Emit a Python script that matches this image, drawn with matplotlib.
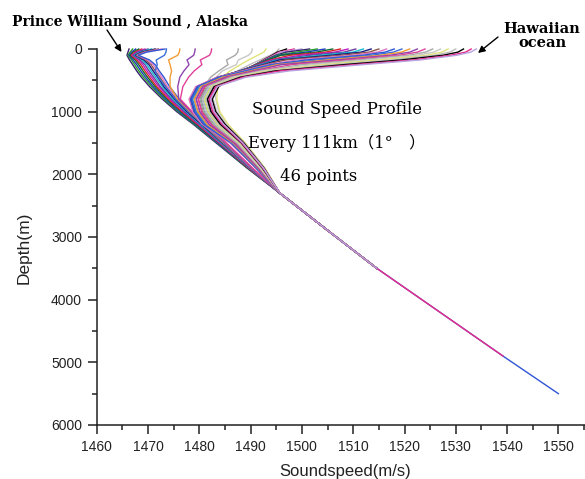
import numpy as np
import matplotlib
matplotlib.use("Agg")
import matplotlib.pyplot as plt
from matplotlib.ticker import MultipleLocator, FixedLocator

# 共通の深度 (m)
depth_m = [0, 50, 100, 175, 250, 350, 450, 600, 800, 1000, 1200, 1500, 1900]

# アラスカ側 (Prince William Sound 付近)
alaska_rows = [
    [1466.3, 1466.1, 1465.9, 1466.4, 1467.0, 1467.8, 1468.7, 1470.3, 1472.8, 1475.6, 1478.8, 1483.3, 1489.3],
    [1467.0, 1466.5, 1466.1, 1466.8, 1467.4, 1468.2, 1469.1, 1470.7, 1473.1, 1475.9, 1479.0, 1483.5, 1489.4],
    [1467.6, 1466.8, 1466.3, 1467.1, 1467.8, 1468.6, 1469.5, 1471.0, 1473.4, 1476.1, 1479.2, 1483.6, 1489.5],
    [1468.2, 1467.1, 1466.5, 1467.5, 1468.2, 1469.0, 1469.9, 1471.4, 1473.7, 1476.4, 1479.4, 1483.8, 1489.5],
    [1468.8, 1467.4, 1466.7, 1467.8, 1468.6, 1469.4, 1470.3, 1471.7, 1474.0, 1476.6, 1479.6, 1483.9, 1489.6],
    [1469.4, 1467.7, 1466.9, 1468.2, 1469.0, 1469.8, 1470.7, 1472.1, 1474.3, 1476.9, 1479.8, 1484.0, 1489.7],
    [1470.0, 1468.0, 1467.1, 1468.5, 1469.4, 1470.2, 1471.1, 1472.4, 1474.6, 1477.1, 1480.0, 1484.2, 1489.8],
    [1470.7, 1468.4, 1467.3, 1468.9, 1469.8, 1470.6, 1471.5, 1472.8, 1474.9, 1477.4, 1480.2, 1484.3, 1489.9],
    [1471.4, 1468.7, 1467.5, 1469.2, 1470.2, 1471.0, 1471.9, 1473.1, 1475.2, 1477.6, 1480.4, 1484.5, 1490.0],
    [1472.0, 1469.0, 1467.7, 1469.6, 1470.6, 1471.4, 1472.3, 1473.5, 1475.5, 1477.9, 1480.6, 1484.6, 1490.0],
    [1472.7, 1469.4, 1467.9, 1469.9, 1471.0, 1471.8, 1472.7, 1473.8, 1475.8, 1478.1, 1480.8, 1484.8, 1490.1],
    [1473.3, 1469.7, 1468.1, 1470.3, 1471.4, 1472.2, 1473.1, 1474.2, 1476.1, 1478.4, 1481.0, 1484.9, 1490.2],
]

# 遷移域 (表層に小さなうねり)
transition_rows = [
    [1473.6, 1473.5, 1473.2, 1471.6, 1471.8, 1471.4, 1472.0, 1473.4, 1475.4, 1477.9, 1480.8, 1485.0, 1490.2],
    [1476.2, 1476.1, 1475.8, 1474.0, 1474.3, 1474.6, 1474.3, 1474.3, 1475.8, 1478.2, 1481.0, 1485.1, 1490.3],
    [1479.2, 1479.1, 1478.9, 1477.6, 1478.0, 1477.0, 1476.2, 1475.8, 1476.0, 1478.4, 1481.2, 1485.2, 1490.3],
    [1482.4, 1482.3, 1482.0, 1480.2, 1480.5, 1479.0, 1477.9, 1476.8, 1476.3, 1478.6, 1481.4, 1485.3, 1490.4],
]

gray_rows = [
    [1487.6, 1487.5, 1487.0, 1485.3, 1485.6, 1483.8, 1482.2, 1481.0, 1480.3, 1480.8, 1482.5, 1486.5, 1491.2],
    [1490.3, 1490.2, 1489.6, 1487.6, 1487.2, 1484.5, 1483.3, 1483.1, 1483.2, 1483.8, 1485.4, 1488.8, 1492.7],
    [1493.0, 1492.6, 1491.4, 1489.6, 1488.0, 1486.0, 1484.4, 1483.6, 1483.4, 1484.0, 1485.6, 1489.0, 1492.8],
    [1495.5, 1495.0, 1493.8, 1491.8, 1489.8, 1487.4, 1485.3, 1483.2, 1482.7, 1483.4, 1485.1, 1488.8, 1492.7],
]

# ハワイ側 (亜熱帯)
subtropic_rows = [
    [1497.0, 1495.2, 1494.2, 1492.5, 1490.9, 1488.7, 1486.6, 1483.8, 1482.5, 1483.2, 1485.0, 1488.7, 1492.6],
    [1498.5, 1495.5, 1494.4, 1492.6, 1490.9, 1488.6, 1486.4, 1483.5, 1482.2, 1482.9, 1484.7, 1488.5, 1492.5],
    [1500.0, 1495.8, 1494.6, 1492.8, 1490.9, 1488.5, 1486.0, 1483.1, 1481.8, 1482.5, 1484.3, 1488.3, 1492.3],
    [1501.5, 1496.9, 1494.9, 1492.9, 1491.0, 1488.4, 1485.8, 1482.8, 1481.5, 1482.2, 1484.0, 1488.1, 1492.2],
    [1503.0, 1498.8, 1495.2, 1493.1, 1491.0, 1488.2, 1485.4, 1482.3, 1481.0, 1481.7, 1483.5, 1487.8, 1492.1],
    [1504.5, 1500.7, 1495.5, 1493.3, 1491.1, 1488.1, 1485.1, 1481.9, 1480.6, 1481.3, 1483.1, 1487.6, 1491.9],
    [1506.0, 1502.8, 1495.9, 1493.5, 1491.2, 1488.0, 1484.8, 1481.5, 1480.2, 1480.9, 1482.7, 1487.3, 1491.8],
    [1507.5, 1504.6, 1497.7, 1493.8, 1491.3, 1487.9, 1484.5, 1481.1, 1479.8, 1480.5, 1482.3, 1487.1, 1491.7],
    [1509.0, 1506.4, 1499.7, 1494.2, 1491.5, 1487.9, 1484.2, 1480.7, 1479.4, 1480.1, 1481.9, 1486.8, 1491.5],
    [1510.5, 1508.2, 1501.6, 1494.6, 1491.7, 1487.8, 1483.9, 1480.3, 1479.0, 1479.7, 1481.5, 1486.6, 1491.4],
    [1512.0, 1509.9, 1503.5, 1495.1, 1492.0, 1487.9, 1483.8, 1480.0, 1478.7, 1479.4, 1481.2, 1486.4, 1491.2],
    [1513.5, 1511.5, 1505.6, 1495.6, 1492.4, 1488.0, 1483.6, 1479.7, 1478.4, 1479.1, 1480.9, 1486.2, 1491.1],
    [1515.0, 1513.1, 1507.7, 1496.8, 1492.8, 1488.2, 1483.5, 1479.5, 1478.2, 1478.9, 1480.7, 1486.1, 1491.1],
    [1516.5, 1514.7, 1509.9, 1498.9, 1493.3, 1488.4, 1483.5, 1479.3, 1478.0, 1478.7, 1480.5, 1486.0, 1491.0],
    [1518.0, 1516.2, 1511.8, 1500.9, 1493.9, 1488.9, 1483.8, 1479.6, 1478.3, 1479.0, 1480.8, 1486.2, 1491.1],
    [1519.5, 1517.8, 1513.6, 1503.0, 1494.5, 1489.4, 1484.2, 1479.9, 1478.6, 1479.3, 1481.1, 1486.4, 1491.2],
    [1521.0, 1519.4, 1515.4, 1504.9, 1495.2, 1490.0, 1484.6, 1480.3, 1479.0, 1479.7, 1481.5, 1486.6, 1491.4],
    [1522.5, 1521.0, 1517.2, 1506.8, 1496.0, 1490.5, 1485.1, 1480.7, 1479.4, 1480.1, 1481.9, 1486.8, 1491.5],
    [1524.0, 1522.5, 1519.0, 1508.8, 1498.0, 1491.2, 1485.6, 1481.1, 1479.8, 1480.5, 1482.3, 1487.1, 1491.7],
    [1525.5, 1524.1, 1520.8, 1510.8, 1500.0, 1491.8, 1486.1, 1481.5, 1480.2, 1480.9, 1482.7, 1487.3, 1491.8],
    [1527.0, 1525.7, 1522.5, 1512.9, 1502.1, 1492.5, 1486.6, 1481.9, 1480.6, 1481.3, 1483.1, 1487.6, 1491.9],
    [1528.5, 1527.3, 1524.3, 1515.0, 1504.2, 1493.2, 1487.1, 1482.3, 1481.0, 1481.7, 1483.5, 1487.8, 1492.1],
    [1530.0, 1528.8, 1525.9, 1517.3, 1506.2, 1494.0, 1487.5, 1482.6, 1481.3, 1482.0, 1483.8, 1488.0, 1492.2],
    [1531.5, 1530.4, 1527.5, 1519.4, 1508.1, 1494.8, 1488.0, 1482.9, 1481.6, 1482.3, 1484.1, 1488.2, 1492.3],
    [1533.0, 1531.9, 1529.0, 1521.6, 1510.1, 1495.7, 1488.5, 1483.2, 1481.9, 1482.6, 1484.4, 1488.3, 1492.4],
    [1534.0, 1532.9, 1530.2, 1523.1, 1511.8, 1497.5, 1489.1, 1483.5, 1482.2, 1482.9, 1484.7, 1488.5, 1492.5],
]

# 深層 (全測点共通)
deep_depth = [2300, 2900, 3500, 4900, 5500]
deep_speed = [1495.7, 1505.1, 1514.6, 1539.2, 1550.0]

# 各測点の海底深度
bottom_depth = [2900, 2900, 2900, 2900, 2900, 2900, 2900, 2900, 2900, 2900,
                2900, 2900, 2900, 2900, 2900, 2900, 3500, 3500, 3500, 3500,
                3500, 3500, 3500, 3500, 3500, 3500, 3500, 3500, 3500, 3500,
                3500, 3500, 3500, 3500, 5500, 3500, 3500, 3500, 3500, 3500,
                3500, 3500, 3500, 3500, 4900, 3500]

x_ticks = [1460, 1470, 1480, 1490, 1500, 1510, 1520, 1530, 1540, 1550]

palette = ['#3b1f6e', '#2ca02c', '#1f3fbf', '#0b6b2e', '#d62728', '#c020c0',
           '#6a3d9a', '#17becf', '#1a1a80', '#8c564b', '#e377c2', '#2f55d4',
           '#3a6fd8', '#f39c34', '#8e44ad', '#e0409a', '#a8a8a8', '#c8c8c8',
           '#e2e27a', '#bdbdbd', '#000000', '#e7298a', '#b7a3e0']

rows = alaska_rows + transition_rows + gray_rows + subtropic_rows

fig = plt.figure(figsize=(5.85, 4.79), dpi=100)
ax = fig.add_axes([96.7 / 585, 54 / 479, 513 / 585, 376 / 479])

for i, row in enumerate(rows):
    d = list(depth_m) + [z for z in deep_depth if z <= bottom_depth[i]]
    c = list(row) + [s for z, s in zip(deep_depth, deep_speed) if z <= bottom_depth[i]]
    ax.plot(c, d, color=palette[i % len(palette)], lw=1.0, clip_on=False)

ax.set_xlim(1460, 1560)
ax.set_ylim(6000, 0)
ax.xaxis.set_major_locator(FixedLocator(x_ticks))
ax.xaxis.set_minor_locator(MultipleLocator(5))
ax.yaxis.set_major_locator(MultipleLocator(1000))
ax.yaxis.set_minor_locator(MultipleLocator(500))
for s in ['top', 'right']:
    ax.spines[s].set_visible(False)
for s in ['left', 'bottom']:
    ax.spines[s].set_linewidth(1.1)
    ax.spines[s].set_color('#222222')
ax.tick_params(which='major', direction='out', length=6.5, width=1.1, color='#222222',
               labelsize=10, labelcolor='#222222', pad=4)
ax.tick_params(which='minor', direction='out', length=3.5, width=1.1, color='#222222')
for lab in ax.get_xticklabels() + ax.get_yticklabels():
    lab.set_family('Liberation Sans')

ax.set_xlabel('Soundspeed(m/s)', fontsize=12, family='Liberation Sans', color='#222222')
ax.set_ylabel('Depth(m)', fontsize=12.5, family='Liberation Sans', color='#222222')
ax.xaxis.set_label_coords((345 - 96.7) / 513, -(464 - 425) / 376)
ax.yaxis.set_label_coords(-(96.7 - 32) / 513, (425 - 248) / 376)


def px(x, y):
    return (x / 585, 1 - y / 479)


fig.text(*px(129.5, 21), 'Prince William Sound , Alaska', ha='center', va='center',
         family='DejaVu Serif', fontweight='bold', fontsize=10)
fig.text(*px(542, 36), 'Hawaiian\nocean', ha='center', va='center', linespacing=0.95,
         family='DejaVu Serif', fontweight='bold', fontsize=10.5)
arrow = dict(arrowstyle='-|>', color='k', lw=1.0, mutation_scale=10, shrinkA=0, shrinkB=0)
ax.annotate('', xy=px(121.5, 52), xycoords='figure fraction',
            xytext=px(107, 30), textcoords='figure fraction', arrowprops=arrow)
ax.annotate('', xy=px(478, 53), xycoords='figure fraction',
            xytext=px(498, 37), textcoords='figure fraction', arrowprops=arrow)

serif = ['DejaVu Serif', 'Noto Sans CJK JP']
fig.text(*px(337, 110), 'Sound Speed Profile', ha='center', va='center', family=serif, fontsize=11.8)
fig.text(*px(337, 143), 'Every 111km（1°\u3000）', ha='center', va='center', family=serif, fontsize=11.8)
fig.text(*px(319, 177), '46 points', ha='center', va='center', family=serif, fontsize=11.8)

fig.savefig('out.png', dpi=100)
